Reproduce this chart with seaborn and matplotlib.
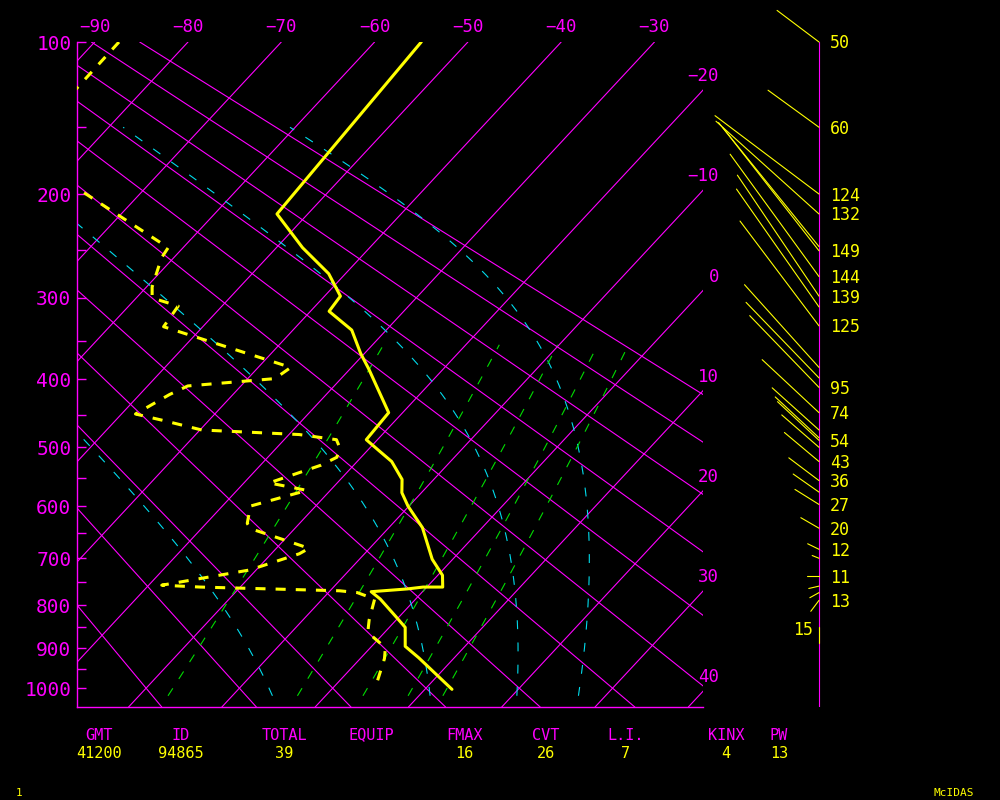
import numpy as np
import matplotlib
matplotlib.use("Agg")
import matplotlib.pyplot as plt
import seaborn as sns

# sounding 94865, 41200 GMT  (pressure hPa, deg C)
temp_p = [100, 217, 248, 274, 298, 315, 337, 366, 386, 447, 488, 505, 523, 553, 576,
          600, 640, 702, 735, 760, 760, 764, 770, 786, 825, 850, 895, 923, 1003]
temp_t = [-55.0, -53.3, -47.2, -41.8, -38.3, -38.0, -33.7, -30.4, -28.0, -21.5, -21.2,
          -18.8, -16.3, -13.4, -12.1, -10.1, -6.4, -2.2, 0.5, 1.7, -0.4, -1.9, -5.5,
          -3.8, -0.4, 1.7, 3.6, 6.2, 12.9]

dew_p = [100, 127, 160, 194, 248, 258, 288, 300, 309, 333, 384, 399, 409, 421, 449, 458,
         473, 480, 488, 500, 516, 529, 559, 572, 600, 632, 642, 680, 691, 724, 756, 760,
         768, 772, 786, 833, 862, 898, 925, 998]
dew_t = [-87.4, -87.3, -88.0, -77.7, -61.6, -61.3, -59.4, -58.3, -54.7, -54.2, -36.5,
         -37.1, -45.7, -46.8, -48.5, -45.1, -39.8, -28.9, -24.4, -23.3, -22.6, -23.5,
         -27.3, -22.5, -27.0, -25.6, -24.7, -16.5, -17.0, -20.7, -28.6, -24.3, -9.0,
         -6.9, -4.4, -2.9, -1.8, 1.6, 2.6, 4.5]

# winds: pressure, speed (kt), direction (deg), printed label
wind_p = [100, 150, 200, 217, 247, 251, 277, 298, 310, 332, 384, 398, 411, 447, 473,
          485, 489, 500, 523, 555, 575, 597, 641, 682, 700, 737, 758, 772, 789, 850]
wind_spd = [50, 60, 124, 132, 152, 149, 144, 139, 137, 125, 106, 100, 95, 74, 60,
            57, 54, 47, 43, 36, 30, 27, 20, 12, 7, 11, 10, 10, 13, 15]
wind_dir = [307, 306, 307, 312, 321, 322, 324, 326, 325, 323, 318, 316, 316, 313, 312,
            313, 313, 311, 310, 307, 305, 302, 300, 296, 292, 270, 257, 241, 217, 180]
wind_lbl = ["50", "60", "124", "132", "", "149", "144", "139", "", "125", "", "", "95",
            "74", "", "", "54", "", "43", "36", "", "27", "20", "12", "", "11", "", "",
            "13", "15"]

index_names = ["GMT", "ID", "TOTAL", "EQUIP", "FMAX", "CVT", "L.I.", "KINX", "PW"]
index_values = ["41200", "94865", "39", "", "16", "26", "7", "4", "13"]
index_x = [99, 181, 284, 371, 464, 546, 626, 726, 779]

# background diagram lines
isotherms = list(range(-90, 50, 10))
top_labels = list(range(-90, -20, 10))
right_labels = list(range(-20, 50, 10))
dry_thetas = list(range(-20, 100, 10))
moist_start = [-5.7, 11.2, 20.5, 27.1]   # deg C at 1020 hPa
mix_ratios = [1, 3, 5, 7, 9]             # g/kg
p_ticks = list(range(100, 1050, 50))

MAG = "#ff00ff"
YEL = "#ffff00"
CYAN = "#00dcec"
GREEN = "#00dd00"
MONO = "DejaVu Sans Mono"

K = 0.286
Y_TOP = 100 ** K
Y_BOT = 1050 ** K
SKEW = 18.54
X_LEFT, X_RIGHT = -91.9, -24.8
PX_PER_Y = 665 / (Y_BOT - Y_TOP)


def yk(p):
    return np.asarray(p, float) ** K


def skew_x(t, p):
    return np.asarray(t, float) - SKEW * (yk(p) - Y_TOP)


def lapse(tk, p):
    tc = tk - 273.15
    es = 6.112 * np.exp(17.67 * tc / (tc + 243.5))
    rs = 0.622 * es / (p - es)
    return (287.04 * tk + 2.501e6 * rs) / (1005.7 + 2.501e6 ** 2 * rs * 0.622 / (287.04 * tk ** 2)) / p


def moist_adiabat(t0, p0=1020.0, p1=150.0, n=500):
    ps = np.linspace(p0, p1, n)
    ts = [t0 + 273.15]
    for i in range(1, n):
        dp = ps[i] - ps[i - 1]
        k1 = lapse(ts[-1], ps[i - 1])
        k2 = lapse(ts[-1] + k1 * dp, ps[i])
        ts.append(ts[-1] + 0.5 * (k1 + k2) * dp)
    return ps, np.array(ts) - 273.15


sns.set_theme(style="ticks", rc={"axes.facecolor": "black", "figure.facecolor": "black"})
plt.rcParams["font.family"] = [MONO, "DejaVu Sans"]

fig = plt.figure(figsize=(10, 8), dpi=100)
ax = fig.add_axes([0.077, 0.11625, 0.626, 0.83125])
wax = fig.add_axes([0.703, 0.11625, 0.297, 0.83125])

pp = np.linspace(100, 1050, 60)

# isotherms
for t in isotherms:
    ax.plot(skew_x(np.full_like(pp, t), pp), yk(pp), color=MAG, lw=0.8, zorder=1)

# dry adiabats
for th in dry_thetas:
    tt = (th + 273.15) * (pp / 1000.0) ** K - 273.15
    ax.plot(skew_x(tt, pp), yk(pp), color=MAG, lw=0.8, zorder=1)

# saturated adiabats
for t0 in moist_start:
    mp, mt = moist_adiabat(t0)
    ax.plot(skew_x(mt, mp), yk(mp), color=CYAN, lw=0.8, ls=(0, (8, 12)), zorder=2)

# mixing ratio lines
wp = np.linspace(1020, 355, 40)
for w in mix_ratios:
    e = (w / 1000.0) * wp / (0.622 + w / 1000.0)
    ln = np.log(e / 6.112)
    td = 243.5 * ln / (17.67 - ln)
    ax.plot(skew_x(td, wp), yk(wp), color=GREEN, lw=0.8, ls=(0, (8, 10)), zorder=2)

# temperature and dew point
sns.lineplot(x=skew_x(temp_t, temp_p), y=yk(temp_p), sort=False, estimator=None,
             color=YEL, lw=2.2, ax=ax, zorder=4)
sns.lineplot(x=skew_x(dew_t, dew_p), y=yk(dew_p), sort=False, estimator=None,
             color=YEL, lw=2.2, linestyle=(0, (3.3, 3.3)), ax=ax, zorder=4)

ax.set_xlim(X_LEFT, X_RIGHT)
ax.set_ylim(Y_BOT, Y_TOP)
ax.set_xlabel("")
ax.set_ylabel("")
ax.set_xticks([])
ax.set_yticks(yk(p_ticks))
ax.set_yticklabels([str(p) if p % 100 == 0 else "" for p in p_ticks])
ax.tick_params(axis="y", direction="in", length=6.5, width=1, colors=MAG,
               labelsize=14, pad=4)
for s in ["top", "right"]:
    ax.spines[s].set_visible(False)
for s in ["left", "bottom"]:
    ax.spines[s].set_color(MAG)
    ax.spines[s].set_linewidth(1)

for t in top_labels:
    ax.annotate(str(t).replace("-", "\u2212"), xy=(t, Y_TOP), xytext=(0, 11),
                textcoords="offset points", ha="center", va="center", color=MAG,
                fontsize=12.5, annotation_clip=False)
for t in right_labels:
    ye = Y_TOP + (t - X_RIGHT) / SKEW
    ax.annotate(str(t).replace("-", "\u2212"), xy=(X_RIGHT, ye), xytext=(11.5, 10),
                textcoords="offset points", ha="right", va="center", color=MAG,
                fontsize=12.5, annotation_clip=False)

# wind panel
AX_X = 819
wax.set_xlim(703, 1000)
wax.set_ylim(Y_BOT, Y_TOP)
wax.axis("off")
wax.plot([AX_X, AX_X], [Y_BOT, Y_TOP], color=MAG, lw=0.8)
for p, spd, d, lbl in zip(wind_p, wind_spd, wind_dir, wind_lbl):
    L = spd * 1.05
    r = np.radians(d)
    y0 = yk(p)
    wax.plot([AX_X, AX_X + L * np.sin(r)], [y0, y0 - L * np.cos(r) / PX_PER_Y],
             color=YEL, lw=0.8, clip_on=False)
    if lbl:
        if abs(np.sin(r)) < 0.1:
            wax.text(AX_X - 6, y0 + 3 / PX_PER_Y, lbl, color=YEL, fontsize=12,
                     ha="right", va="center")
        else:
            wax.text(AX_X + 11, y0 + 1.5 / PX_PER_Y, lbl, color=YEL, fontsize=12,
                     ha="left", va="center")

# stability indices
for name, val, x in zip(index_names, index_values, index_x):
    fig.text(x / 1000, 1 - 735 / 800, name, color=MAG, fontsize=11, ha="center", va="center")
    if val:
        fig.text(x / 1000, 1 - 754 / 800, val, color=YEL, fontsize=11, ha="center", va="center")

fig.text(0.019, 1 - 793 / 800, "1", color=YEL, fontsize=8, ha="center", va="center")
fig.text(0.954, 1 - 793 / 800, "McIDAS", color=YEL, fontsize=8, ha="center", va="center")

fig.savefig("out.png", dpi=100, facecolor="black")
